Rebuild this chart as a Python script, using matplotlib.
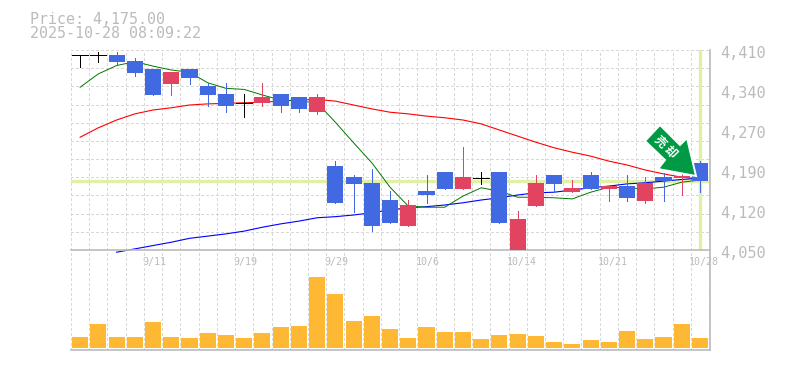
import matplotlib
matplotlib.use('Agg')
import matplotlib.pyplot as plt
import numpy as np
from matplotlib.patches import Polygon
from matplotlib.transforms import IdentityTransform

plt.rcParams['font.family'] = ['DejaVu Sans Mono', 'Noto Sans CJK JP']

# datos
opens = [4401, 4401, 4401, 4390, 4376, 4349, 4376, 4345, 4331, 4315, 4315, 4331, 4325, 4298, 4201, 4181, 4171, 4140,
         4093, 4156, 4190, 4160, 4180, 4190, 4050, 4129, 4185, 4154, 4185, 4160, 4165, 4138, 4181, 4180, 4207]
highs = [4401, 4407, 4406, 4395, 4376, 4370, 4376, 4350, 4350, 4331, 4350, 4331, 4325, 4331, 4210, 4185, 4196, 4156,
         4140, 4185, 4190, 4235, 4190, 4190, 4120, 4185, 4185, 4176, 4190, 4165, 4185, 4181, 4189, 4190, 4210]
lows = [4379, 4389, 4385, 4363, 4329, 4329, 4349, 4309, 4299, 4290, 4309, 4299, 4299, 4295, 4135, 4118, 4084, 4099,
        4093, 4135, 4160, 4160, 4169, 4099, 4050, 4129, 4154, 4154, 4160, 4138, 4138, 4135, 4138, 4149, 4154]
closes = [4401, 4401, 4389, 4369, 4329, 4370, 4360, 4329, 4309, 4315, 4325, 4309, 4304, 4325, 4135, 4169, 4093, 4099,
          4131, 4149, 4160, 4181, 4180, 4099, 4106, 4171, 4169, 4162, 4160, 4165, 4144, 4171, 4174, 4183, 4175]
ma_green = [4343, 4367, 4382, 4389, 4381, 4374, 4370, 4351, 4341, 4339, 4329, 4320, 4318, 4315, 4280, 4243, 4207, 4163,
            4129, 4127, 4127, 4147, 4162, 4156, 4145, 4145, 4144, 4142, 4154, 4163, 4162, 4160, 4163, 4172, 4176]
ma_red = [4253, 4270, 4284, 4295, 4302, 4306, 4311, 4313, 4314, 4315, 4316, 4318, 4320, 4321, 4318, 4311, 4304, 4298,
          4295, 4291, 4288, 4284, 4277, 4266, 4255, 4244, 4234, 4226, 4219, 4210, 4203, 4194, 4187, 4181, 4178]
ma_blue = [np.nan, np.nan, 4046, 4052, 4058, 4064, 4071, 4075, 4079, 4084, 4091, 4097, 4102, 4108, 4110, 4113, 4117,
           4122, 4126, 4128, 4131, 4135, 4140, 4144, 4149, 4153, 4154, 4158, 4162, 4165, 4169, 4171, 4174, 4177, 4179]
volume = [11, 24, 11, 11, 26, 11, 10, 15, 13, 10, 15, 21, 22, 71, 54, 27, 32, 19, 10, 21, 16, 16, 9, 13, 14, 12, 6, 4,
          8, 6, 17, 9, 11, 24, 10]
date_labels = ['9/11', '9/19', '9/29', '10/6', '10/14', '10/21', '10/28']
date_pos = [4, 9, 14, 19, 24, 29, 34]
price_ticks = [4050, 4122, 4194, 4266, 4338, 4410]
price_labels = ['4,050', '4,120', '4,190', '4,270', '4,340', '4,410']
last_price = 4175

BLUE = '#4169E1'
RED = '#E14361'
GRAY = '#BBBBBB'
GRID = '#D8D8D8'
LIME = '#E0F0A4'
x = np.arange(len(opens))

fig = plt.figure(figsize=(7.85, 3.7), dpi=100)
ax = fig.add_axes([71 / 785, 120 / 370, 639 / 785, 200 / 370])
ax_vol = fig.add_axes([71 / 785, 20 / 370, 639 / 785, 100 / 370])
ax_vol.patch.set_visible(False)

for a in (ax, ax_vol):
    a.set_xlim(-0.5, 34.55)
    a.set_xticks(np.arange(-0.5, 35))
    a.tick_params(length=0, labelbottom=False, labelleft=False)
    a.grid(axis='x', color=GRID, linestyle=(0, (3, 2.7)), linewidth=0.7, antialiased=False)
    a.set_axisbelow(True)
    for side in ('left', 'top'):
        a.spines[side].set_visible(False)
    for side in ('bottom', 'right'):
        a.spines[side].set_color(GRAY)
        a.spines[side].set_linewidth(1.2)

# panel de precios
ax.set_ylim(4050, 4410)
ax.set_yticks(np.linspace(4050, 4410, 12))
ax.grid(axis='y', color=GRID, linestyle=(0, (3, 2.7)), linewidth=0.7, antialiased=False)
ax.axhline(last_price, color=LIME, linewidth=2.4, zorder=1.2)
ax.axvline(x[-1], ymax=0.995, color=LIME, linewidth=2.4, zorder=1.2)

ax.plot(x, ma_red, color='#FF0000', linewidth=0.8, zorder=2)
ax.plot(x, ma_blue, color='#0000FF', linewidth=0.8, zorder=2, clip_on=False)
ax.plot(x, ma_green, color='#007700', linewidth=0.7, zorder=2)

for i in x:
    o, h, l, c = opens[i], highs[i], lows[i], closes[i]
    if o == c:
        col = 'black'
        ax.hlines(o, i - 0.44, i + 0.44, color=col, linewidth=0.6, zorder=3, antialiased=False)
    else:
        col = RED if c > o else BLUE
        ax.bar(i, abs(c - o), bottom=min(o, c), width=0.88, color=col, zorder=3, antialiased=False)
    ax.vlines(i, l, h, color=col, linewidth=0.6, zorder=2.9, antialiased=False)

# panel de volumen
ax_vol.set_ylim(-2, 98)
ax_vol.set_yticks([])
ax_vol.bar(x, volume, width=0.88, color='#FFB833', zorder=3, antialiased=False)

# textos
for t, p in zip(price_labels, price_ticks):
    ax.annotate(t, xy=(34.55, p), xytext=(7.5, -2.5), textcoords='offset points', annotation_clip=False,
                fontsize=11, color=GRAY, va='center', ha='left')
for t, p in zip(date_labels, date_pos):
    ax.annotate(t, xy=(p, 4050), xytext=(-8, -8.7), textcoords='offset points', annotation_clip=False,
                fontsize=7.2, color=GRAY, ha='left', va='center')
fig.text(30 / 785, 1 - 19 / 370, 'Price: 4,175.00', fontsize=10.8, color=GRAY, va='center')
fig.text(30 / 785, 1 - 34 / 370, '2025-10-28 08:09:22', fontsize=10.8, color=GRAY, va='center')

# flecha de senal
arrow = [(660, 125), (645, 141), (665, 160), (658, 169), (696, 176), (687, 138), (680, 145)]
arrow_px = [(px, 370 - py) for px, py in arrow]
fig.add_artist(Polygon(arrow_px, closed=True, transform=IdentityTransform(), facecolor='#009944',
                       edgecolor='white', linewidth=1.4, zorder=10))
fig.text(666 / 785, 1 - 147 / 370, '売 却', rotation=-45, rotation_mode='anchor', fontsize=8.5, fontweight='bold',
         family=['Noto Sans CJK JP', 'DejaVu Sans'], color='white', ha='center', va='center', zorder=11)

fig.savefig('out.png', dpi=100)
